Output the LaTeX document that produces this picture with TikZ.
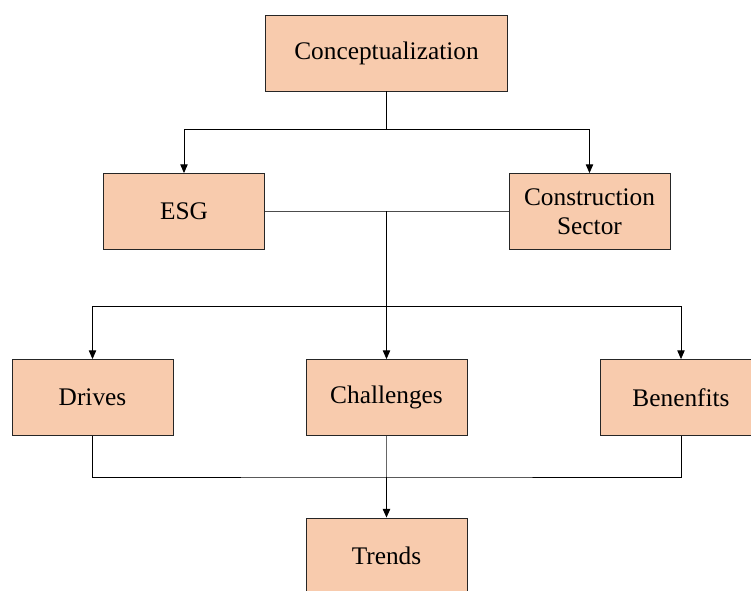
\documentclass[tikz,border=0pt]{standalone}
\usepackage{fontspec}
\setmainfont{LiberationSerif}[Extension=.ttf,UprightFont=*-Regular,BoldFont=*-Bold]
\usetikzlibrary{arrows.meta}

\definecolor{boxfill}{HTML}{F8CBAD}

\begin{document}
\begin{tikzpicture}[x=0.75pt,y=-0.75pt,>={Triangle[width=5.5pt,length=6.5pt]},
  line width=0.6pt,
  topic/.style={rectangle,draw=black!85,fill=boxfill,minimum width=120.75pt,
    minimum height=57pt,align=center,inner sep=2pt,
    font=\fontsize{19}{22}\selectfont}]

  \clip (0,0) rectangle (751,591);

  \node[topic,minimum width=182pt] (concept) at (386.5,53) {Conceptualization};
  \node[topic] (esg) at (184,211.5) {ESG};
  \node[topic] (sector) at (589.5,211.5) {Construction\\Sector};
  \node[topic] (drives) at (92.5,397.5) {Drives};
  \node[topic] (challenges) at (386.5,397.5) {Challenges};
  \node[topic] (benefits) at (681,397.5) {Benenfits};
  \node[topic] (trends) at (386.5,556) {Trends};

  \coordinate (split1) at (386.5,129);
  \coordinate (join1) at (386.5,211.5);
  \coordinate (split2) at (386.5,306);
  \coordinate (join2) at (386.5,477);

  \draw (concept) -- (split1);
  \draw[->] (split1) -| (esg);
  \draw[->] (split1) -| (sector);

  \draw[black!70] (esg) -- (sector);
  \draw[line width=1pt] (join1) -- (split2);
  \draw[->] (split2) -| (drives);
  \draw[->] (split2) -- (challenges);
  \draw[->] (split2) -| (benefits);

  \draw (drives.south) |- (join2) -| (benefits.south);
  \draw[black!60] (challenges) -- (join2);
  \draw[->,line width=1pt] (join2) -- (trends);

\end{tikzpicture}
\end{document}
